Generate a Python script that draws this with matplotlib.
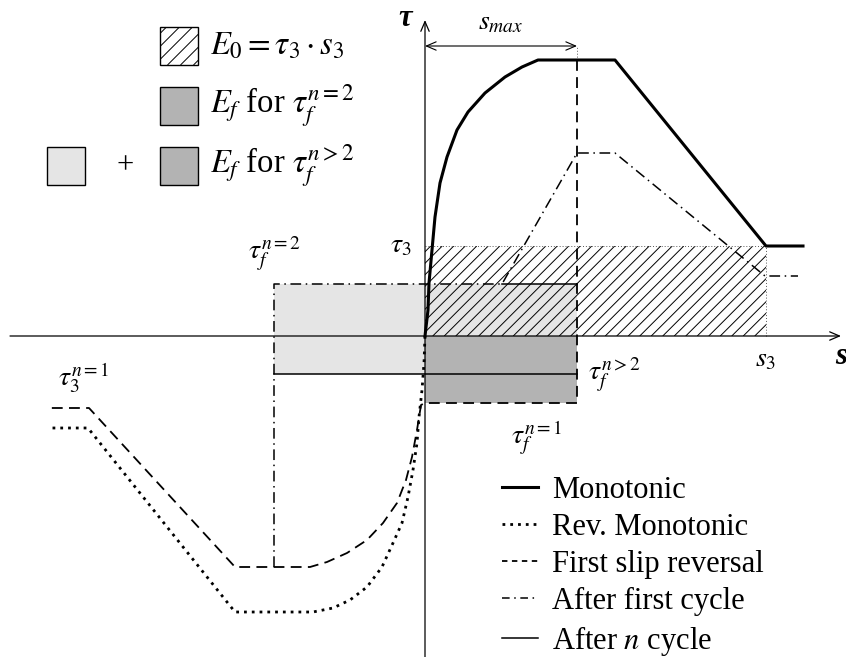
import numpy as np
import matplotlib.pyplot as plt
from matplotlib.patches import Rectangle
from matplotlib.lines import Line2D

plt.rcParams['font.family'] = ['Liberation Serif', 'DejaVu Serif']
plt.rcParams['mathtext.fontset'] = 'stix'

# slip s (horizontal) and bond stress tau (vertical), origin where the axes cross
mono_s = [0, 3, 4, 7, 10, 15, 22, 32, 43, 60, 80, 97, 113, 190, 341, 378]
mono_tau = [0, 26, 53, 86, 119, 153, 179, 206, 224, 243, 259, 269, 276, 276, 90, 90]

rev_s = [0, -1, -3, -6, -8, -12, -17, -23, -32, -43, -58, -75, -92, -112, -190, -337, -373]
rev_tau = [0, -27, -54, -81, -107, -134, -161, -187, -207, -231, -251, -264, -272, -276,
           -276, -92, -92]

slip1_s = [152, 152, 0, -4, -8, -13, -19, -28, -42, -58, -78, -98, -115, -190, -336, -378]
slip1_tau = [276, -67, -67, -69, -94, -121, -144, -167, -187, -204, -217, -226, -231, -231,
             -72, -72]

cyc1_s = [-151, -151, 77, 152, 190, 340, 373]
cyc1_tau = [-231, 52, 52, 183, 183, 60, 60]

cycn_s = [77, 152, np.nan, -151, 152]
cycn_tau = [52, 52, np.nan, -38, -38]

# characteristic values
s_max = 152
s_3 = 341
tau_3 = 90
s_rev = -151
tau_f_n2 = 52
tau_f_ngt2 = -38
tau_f_n1 = -67

legend_labels = ['Monotonic', 'Rev. Monotonic', 'First slip reversal',
                 'After first cycle', 'After $n$ cycle']

LIGHT = '#e5e5e5'
DARK = '#b3b3b3'


def hatch_rect(ax, x0, y0, w, h, spacing, zorder=2, **kw):
    # 45 degree hatching clipped to a rectangle (axes use 1 unit = 1 px)
    clip = Rectangle((x0, y0), w, h, facecolor='none', edgecolor='none')
    ax.add_patch(clip)
    for c in np.arange(x0 - h + spacing / 2, x0 + w, spacing):
        ln, = ax.plot([c, c + h], [y0, y0 + h], color='k', lw=0.7,
                      zorder=zorder, solid_capstyle='butt')
        ln.set_clip_path(clip)


fig = plt.figure(figsize=(8.46, 6.57), dpi=100)
ax = fig.add_axes([0, 0, 1, 1])
ax.set_xlim(-425, 421)
ax.set_ylim(-321, 336)
ax.axis('off')

# energy areas
ax.add_patch(Rectangle((s_rev, tau_f_ngt2), s_max - s_rev, tau_f_n2 - tau_f_ngt2,
                       facecolor=LIGHT, edgecolor='none', zorder=1))
ax.add_patch(Rectangle((0, tau_f_n1), s_max, -tau_f_n1,
                       facecolor=DARK, edgecolor='none', zorder=1))
hatch_rect(ax, 0, 0, s_3, tau_3, 11.5)

# thin guide lines
guide = dict(color='0.35', lw=0.7, ls=(0, (1, 2)), zorder=2)
ax.plot([0, s_3], [tau_3, tau_3], **guide)
ax.plot([s_3, s_3], [0, tau_3], **guide)
ax.plot([s_max, s_max], [276, 290], **guide)

# curves
ax.plot(mono_s, mono_tau, color='k', lw=2.2, zorder=5)
ax.plot(rev_s, rev_tau, color='k', lw=2.0, ls=(0, (1, 1.8)), zorder=4)
ax.plot(slip1_s, slip1_tau, color='k', lw=1.3, ls=(0, (6, 3.5)), zorder=4)
ax.plot(cyc1_s, cyc1_tau, color='k', lw=1.1, ls=(0, (7, 3, 1, 3)), zorder=4)
ax.plot(cycn_s, cycn_tau, color='k', lw=1.1, zorder=4)

# axes with arrows
arrow = dict(arrowstyle='->, head_length=0.7, head_width=0.3', lw=0.9, color='k',
             shrinkA=0, shrinkB=0)
ax.annotate('', xy=(416, 0), xytext=(-415, 0), arrowprops=arrow, zorder=6)
ax.annotate('', xy=(0, 316), xytext=(0, -321), arrowprops=arrow, zorder=6)
ax.annotate('', xy=(s_max, 290), xytext=(0, 290),
            arrowprops=dict(arrowstyle='<->, head_length=0.7, head_width=0.3',
                            lw=0.8, color='k', shrinkA=0, shrinkB=0))

ax.text(-20, 318, 'τ', fontsize=22, fontweight='bold', style='italic',
        ha='center', va='center')
ax.text(410, -20, 's', fontsize=22, fontweight='bold', style='italic',
        ha='left', va='center')
ax.text(s_max / 2, 313, r'$s_{max}$', fontsize=20, ha='center', va='center')
ax.text(-24, tau_3, r'$\tau_3$', fontsize=20, ha='center', va='center')
ax.text(s_3, -24, r'$s_3$', fontsize=20, ha='center', va='center')
ax.text(s_rev, 83, r'$\tau_f^{n=2}$', fontsize=20, ha='center', va='center')
ax.text(-341, -42, r'$\tau_3^{n=1}$', fontsize=20, ha='center', va='center')
ax.text(163, -38, r'$\tau_f^{n>2}$', fontsize=20, ha='left', va='center')
ax.text(112, -102, r'$\tau_f^{n=1}$', fontsize=20, ha='center', va='center')

# energy key, top left
box = 38
ax.add_patch(Rectangle((-265, 271), box, box, facecolor='white', edgecolor='none'))
hatch_rect(ax, -265, 271, box, box, 13, zorder=3)
ax.add_patch(Rectangle((-265, 271), box, box, facecolor='none', edgecolor='k',
                       lw=1.0, zorder=4))
ax.add_patch(Rectangle((-265, 211), box, box, facecolor=DARK, edgecolor='k', lw=1.0))
ax.add_patch(Rectangle((-265, 151), box, box, facecolor=DARK, edgecolor='k', lw=1.0))
ax.add_patch(Rectangle((-378, 151), box, box, facecolor=LIGHT, edgecolor='k', lw=1.0))
ax.text(-300, 170, '+', fontsize=22, ha='center', va='center')
ax.text(-215, 290, r'$E_0 = \tau_3 \cdot s_3$', fontsize=23.5, ha='left', va='center')
ax.text(-215, 230, r'$E_f$ for $\tau_f^{n=2}$', fontsize=23.5, ha='left', va='center')
ax.text(-215, 170, r'$E_f$ for $\tau_f^{n>2}$', fontsize=23.5, ha='left', va='center')

# line-style legend, bottom right
handles = [
    Line2D([], [], color='k', lw=2.2),
    Line2D([], [], color='k', lw=2.0, ls=(0, (1, 1.8))),
    Line2D([], [], color='k', lw=1.3, ls=(0, (3, 2.5))),
    Line2D([], [], color='k', lw=1.1, ls=(0, (5, 3, 1, 3))),
    Line2D([], [], color='k', lw=1.1),
]
ax.legend(handles, legend_labels, loc='upper left', bbox_to_anchor=(0.593, 0.2755),
          frameon=False, fontsize=22, handlelength=1.18, handletextpad=0.46,
          labelspacing=0.26, borderpad=0, borderaxespad=0)

fig.savefig('out.png', dpi=100)
